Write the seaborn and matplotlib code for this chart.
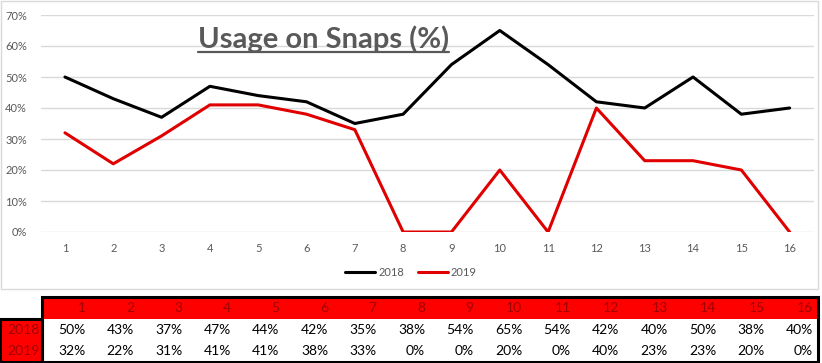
import numpy as np
import pandas as pd
import matplotlib.pyplot as plt
import seaborn as sns
from matplotlib.patches import Rectangle

weeks = list(range(1, 17))
usage_2018 = [50, 43, 37, 47, 44, 42, 35, 38, 54, 65, 54, 42, 40, 50, 38, 40]
usage_2019 = [32, 22, 31, 41, 41, 38, 33, 0, 0, 20, 0, 40, 23, 23, 20, 0]
years = ["2018", "2019"]
colors = {"2018": "black", "2019": "#E00000"}

df = pd.DataFrame({
    "week": weeks * 2,
    "usage": np.array(usage_2018 + usage_2019) / 100,
    "year": ["2018"] * 16 + ["2019"] * 16,
})

sns.set_style("white")
plt.rcParams["font.family"] = ["Lato", "DejaVu Sans"]

W, H = 822, 363
fig = plt.figure(figsize=(W / 100, H / 100), dpi=100)

# chart frame
fig.patches.append(Rectangle((1 / W, 1 - 289 / H), 817 / W, 288 / H, transform=fig.transFigure,
                             fill=False, edgecolor="#d9d9d9", lw=1))

ax = fig.add_axes([40.8 / W, 1 - 232 / H, 773 / W, 217 / H])
sns.lineplot(data=df, x="week", y="usage", hue="year", palette=colors, lw=2.2, ax=ax, legend=False)
ax.set_xlim(0.5, 16.5)
ax.set_ylim(0, 0.7)
ax.set_yticks(np.arange(0, 0.71, 0.1))
ax.set_yticklabels([f"{int(round(v * 100))}%" for v in np.arange(0, 0.71, 0.1)])
ax.set_xticks(weeks)
ax.grid(axis="y", color="#d9d9d9", lw=1)
ax.set_axisbelow(True)
for s in ax.spines.values():
    s.set_visible(False)
ax.tick_params(axis="both", labelsize=8, colors="#595959", length=0)
ax.tick_params(axis="y", pad=10)
ax.tick_params(axis="x", pad=8)
ax.set_xlabel("")
ax.set_ylabel("")
title = ax.text(0.2034, 0.848, "Usage on Snaps (%)", transform=ax.transAxes, fontsize=21, fontweight="bold",
                color="#595959", ha="left", va="baseline")
fig.canvas.draw()
bb = title.get_window_extent().transformed(ax.transAxes.inverted())
ax.plot([bb.x0, bb.x1], [0.8295, 0.8295], transform=ax.transAxes, color="#595959", lw=1.6, clip_on=False)

handles = [plt.Line2D([], [], color=colors[y], lw=2.2) for y in years]
fig.legend(handles, years, loc="center", bbox_to_anchor=(411 / W, 1 - 272 / H), ncol=2, frameon=False,
           fontsize=8, handlelength=2.7, columnspacing=1.2, handletextpad=0.3, labelcolor="#595959")

# data table below the chart
lab_w = 42 / 48.5
tax = fig.add_axes([0, 1 - 362 / H, 818 / W, 65 / H])
tax.set_xlim(-lab_w, 16)
tax.set_ylim(0, 3)
tax.axis("off")
tax.add_patch(Rectangle((0, 2), 16, 1, facecolor="#FF0000", edgecolor="none"))
tax.add_patch(Rectangle((-lab_w, 0), lab_w, 2, facecolor="#FF0000", edgecolor="none"))
tax.add_patch(Rectangle((0, 0), 16, 3, fill=False, edgecolor="black", lw=2.2, clip_on=False))
tax.add_patch(Rectangle((-lab_w, 0), lab_w, 2, fill=False, edgecolor="black", lw=2.2, clip_on=False))
pad = 0.1
for i, w in enumerate(weeks):
    tax.text(i + 1 - pad, 2.5, str(w), ha="right", va="center", fontsize=10, color="#A00000")
    tax.text(i + 1 - pad, 1.5, f"{usage_2018[i]}%", ha="right", va="center", fontsize=10, color="black")
    tax.text(i + 1 - pad, 0.5, f"{usage_2019[i]}%", ha="right", va="center", fontsize=10, color="black")
for r, y in zip([1.5, 0.5], years):
    tax.text(-0.05, r, y, ha="right", va="center", fontsize=10, color="#A00000")

fig.savefig("out.png", dpi=100)
